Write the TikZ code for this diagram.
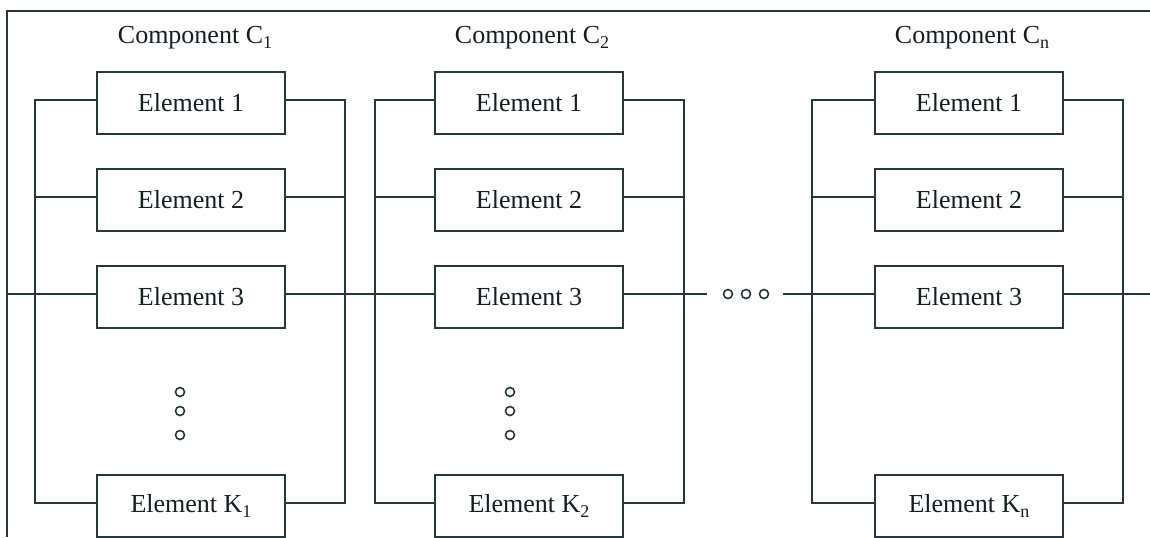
\documentclass[tikz,border=0pt]{standalone}
\usepackage{fontspec}
\setmainfont{Liberation Serif}
\definecolor{lc}{RGB}{38,56,62}
\definecolor{tc}{RGB}{20,30,35}
\newcommand{\sbs}[1]{\raisebox{-0.45ex}{\fontsize{9}{9}\selectfont #1}}
\begin{document}
\begin{tikzpicture}[x=0.5pt,y=-0.5pt,
  ln/.style={line width=1pt, draw=lc},
  elem/.style={draw=lc, line width=1pt, minimum width=94pt, minimum height=31pt, inner sep=0pt, font=\fontsize{13}{15}\selectfont, text=tc},
  ttl/.style={font=\fontsize{13}{15}\selectfont, text=tc, anchor=base},
  sdot/.style={draw=lc, line width=0.8pt, circle, minimum size=4.5pt, inner sep=0pt}]
\useasboundingbox (0,0) rectangle (1150,537);
% frame
\coordinate (fTL) at (7,11);
\coordinate (fBL) at (7,537);
\coordinate (fTR) at (1150,11);
\draw[ln] (fBL) -- (fTL) -- (fTR);

% titles
\node[ttl] (t1) at (195,43) {Component C\sbs{1}};
\node[ttl] (t2) at (532,43) {Component C\sbs{2}};
\node[ttl] (tn) at (972,43) {Component C\sbs{n}};

% component 1
\node[elem] (a1) at (191,103) {Element 1};
\node[elem] (a2) at (191,200) {Element 2};
\node[elem] (a3) at (191,297) {Element 3};
\node[elem] (a4) at (191,506) {Element K\sbs{1}};
% component 2
\node[elem] (b1) at (529,103) {Element 1};
\node[elem] (b2) at (529,200) {Element 2};
\node[elem] (b3) at (529,297) {Element 3};
\node[elem] (b4) at (529,506) {Element K\sbs{2}};
% component n
\node[elem] (c1) at (969,103) {Element 1};
\node[elem] (c2) at (969,200) {Element 2};
\node[elem] (c3) at (969,297) {Element 3};
\node[elem] (c4) at (969,506) {Element K\sbs{n}};

% wire attach points
\foreach \n in {a1,a2,a3,a4,b1,b2,b3,b4,c1,c2,c3,c4}{
  \coordinate (\n w) at ([yshift=1.5pt]\n.west);
  \coordinate (\n e) at ([yshift=1.5pt]\n.east);
}
% bus positions
\coordinate (aL) at (35,0);  \coordinate (aR) at (345,0);
\coordinate (bL) at (375,0); \coordinate (bR) at (684,0);
\coordinate (cL) at (812,0); \coordinate (cR) at (1123,0);

\foreach \p in {a,b,c}{
  \draw[ln] (\p1w) -- (\p1w -| \p L) -- (\p4w -| \p L) -- (\p4w);
  \draw[ln] (\p1e) -- (\p1e -| \p R) -- (\p4e -| \p R) -- (\p4e);
  \draw[ln] (\p2w) -- (\p2w -| \p L);
  \draw[ln] (\p2e) -- (\p2e -| \p R);
}

% main line
\coordinate (mL) at (fTL |- a3w);
\coordinate (hl) at (707,0);
\coordinate (hr) at (783,0);
\coordinate (mR) at (fTR |- c3e);
\draw[ln] (mL) -- (a3w);
\draw[ln] (a3e) -- (b3w);
\draw[ln] (b3e) -- (b3e -| hl);
\draw[ln] (c3w -| hr) -- (c3w);
\draw[ln] (c3e) -- (mR);

% horizontal dots
\node[sdot] (h1) at (728,294) {};
\node[sdot] (h2) at (746,294) {};
\node[sdot] (h3) at (764,294) {};

% vertical dots
\node[sdot] (v1) at (180,392) {};
\node[sdot] (v2) at (180,411) {};
\node[sdot] (v3) at (180,435) {};
\node[sdot] (u1) at (510,392) {};
\node[sdot] (u2) at (510,411) {};
\node[sdot] (u3) at (510,435) {};
\end{tikzpicture}
\end{document}
